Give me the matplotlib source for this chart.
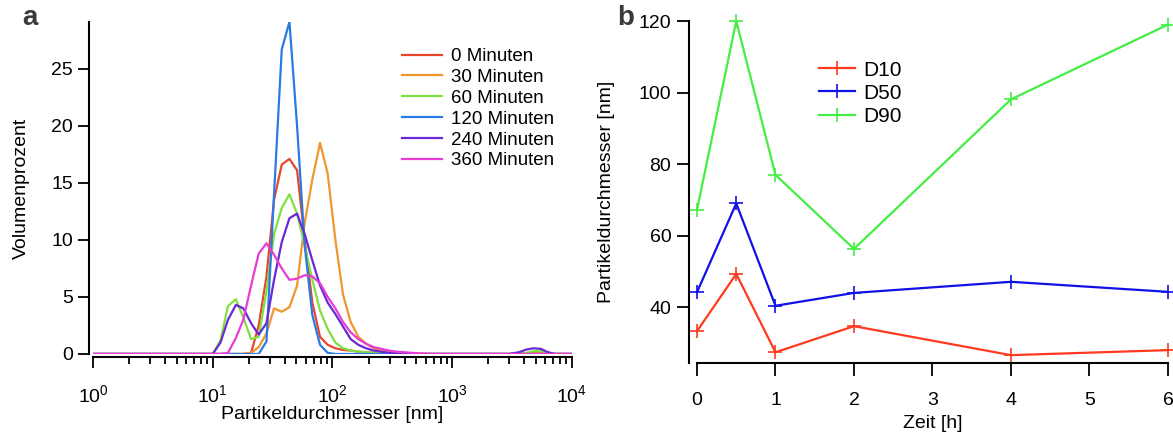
import matplotlib
matplotlib.use('Agg')
import matplotlib.pyplot as plt
import numpy as np

plt.rcParams['font.family'] = ['Liberation Sans', 'DejaVu Sans']
plt.rcParams['font.size'] = 14

# Panel a: Volumenverteilung (Partikeldurchmesser in nm)
durchmesser = [1.0, 5.0, 10.0, 11.6, 13.4, 15.6, 18.0, 20.9, 24.2, 28.1, 32.5, 37.7,
               43.7, 50.6, 58.6, 67.9, 78.7, 91.2, 105.7, 122.5, 141.9, 164.4, 190.5,
               220.8, 255.9, 296.5, 343.6, 398.1, 461.4, 534.6, 700, 1000, 2000, 3000,
               3600, 4200, 4800, 5500, 6300, 7200, 8400, 10000]

min0 = [0, 0, 0, 0, 0, 0, 0, 0.1, 2.5, 6.8, 13.5, 16.6,
        17.1, 16.1, 10.0, 4.5, 1.5, 0.8, 0.5, 0.35, 0.3, 0.2, 0.15,
        0.1, 0.05, 0, 0, 0, 0, 0, 0, 0, 0, 0,
        0, 0.05, 0.1, 0.1, 0.05, 0, 0, 0]
min30 = [0, 0, 0, 0, 0, 0, 0, 0.1, 0.6, 1.8, 4.0, 3.7,
         4.1, 6.0, 11.5, 15.3, 18.5, 15.8, 10.0, 5.2, 2.8, 1.5, 0.9,
         0.5, 0.3, 0.15, 0.1, 0.05, 0, 0, 0, 0, 0, 0,
         0, 0, 0.05, 0.1, 0.05, 0, 0, 0]
min60 = [0, 0, 0, 1.2, 4.2, 4.8, 3.2, 1.3, 1.5, 5.5, 10.5, 12.8,
         14.0, 12.3, 9.5, 6.5, 3.8, 2.2, 1.0, 0.5, 0.3, 0.2, 0.15,
         0.1, 0.05, 0, 0, 0, 0, 0, 0, 0, 0, 0,
         0, 0.1, 0.25, 0.3, 0.15, 0, 0, 0]
min120 = [0, 0, 0, 0, 0, 0, 0, 0, 0, 1.1, 14.0, 26.7,
          29.1, 20.0, 9.5, 3.4, 0.8, 0.1, 0, 0, 0, 0, 0,
          0, 0, 0, 0, 0, 0, 0, 0, 0, 0, 0,
          0, 0, 0, 0, 0, 0, 0, 0]
min240 = [0, 0, 0, 1.0, 3.0, 4.3, 4.0, 2.7, 1.7, 2.7, 6.5, 9.8,
          11.9, 12.3, 10.5, 8.2, 6.0, 4.5, 3.5, 2.4, 1.3, 0.8, 0.5,
          0.3, 0.2, 0.1, 0.05, 0, 0, 0, 0, 0, 0, 0,
          0.15, 0.4, 0.5, 0.45, 0.15, 0, 0, 0]
min360 = [0, 0, 0, 0, 0.1, 1.4, 3.0, 6.0, 8.8, 9.7, 8.7, 7.5,
          6.5, 6.6, 6.9, 6.8, 6.2, 5.0, 4.0, 2.8, 1.9, 1.3, 0.9,
          0.6, 0.45, 0.3, 0.2, 0.15, 0.1, 0.05, 0, 0, 0, 0,
          0, 0, 0, 0, 0, 0, 0, 0]

kurven = [min0, min30, min60, min120, min240, min360]
namen = ['0 Minuten', '30 Minuten', '60 Minuten', '120 Minuten', '240 Minuten', '360 Minuten']
farben = ['#e8472c', '#f0962e', '#80e040', '#2a7ae2', '#6a28d8', '#e83cd6']

# Panel b: D10 / D50 / D90 ueber die Zeit
zeit = [0, 0.5, 1, 2, 4, 6]
d10 = [33.3, 49.3, 27.4, 34.7, 26.6, 28.0]
d50 = [44.2, 69.0, 40.4, 44.0, 47.1, 44.3]
d90 = [67.2, 120.0, 77.0, 56.3, 98.1, 119.0]

fig = plt.figure(figsize=(11.73, 4.37), dpi=100)

# ---- a ----
ax = fig.add_axes([0.0793, 0.19, 0.4083, 0.7597])
for y, n, c in zip(kurven, namen, farben):
    ax.plot(durchmesser, y, color=c, lw=1.6, label=n)
ax.set_xscale('log')
ax.set_xlim(1, 1e4)
ax.set_ylim(0, 29.1)
ax.set_yticks([0, 5, 10, 15, 20, 25])
ax.set_xticks([1, 10, 100, 1000, 10000])
ax.set_xticklabels(['$\\mathregular{10^{%d}}$' % i for i in range(5)])
for s in ['top', 'right']:
    ax.spines[s].set_visible(False)
ax.spines['left'].set_position(('outward', 3))
ax.spines['bottom'].set_position(('outward', 2))
ax.spines['left'].set_linewidth(1.5)
ax.spines['bottom'].set_linewidth(1.5)
ax.tick_params(axis='both', which='major', direction='out', length=8, width=1.3, labelsize=14)
ax.tick_params(axis='x', which='minor', direction='out', length=5, width=1.3)
ax.tick_params(axis='x', which='major', pad=12)
ax.set_ylabel('Volumenprozent', fontsize=14, labelpad=15)
ax.set_xlabel('Partikeldurchmesser [nm]', fontsize=14)
ax.xaxis.set_label_coords(0.5, -0.158)
ax.legend(loc='upper left', bbox_to_anchor=(0.625, 0.95), frameon=False, fontsize=13.5,
          handlelength=2.15, handletextpad=0.5, labelspacing=0.2, borderpad=0)
fig.text(22 / 1173, 1 - 18 / 437, 'a', fontsize=20, fontweight='bold', color='#3a3a3a',
         ha='left', va='center')

# ---- b ----
bx = fig.add_axes([0.5942, 0.1693, 0.4015, 0.7826])
bx.plot(zeit, d10, color='#ff3a1e', lw=1.6, marker='+', ms=10, mew=1.2, label='D10', clip_on=False)
bx.plot(zeit, d50, color='#1010e8', lw=1.6, marker='+', ms=10, mew=1.2, label='D50', clip_on=False)
bx.plot(zeit, d90, color='#44ee44', lw=1.6, marker='+', ms=10, mew=1.2, label='D90', clip_on=False)
bx.set_xlim(0, 6)
bx.set_ylim(24.4, 120)
bx.set_yticks([40, 60, 80, 100, 120])
bx.set_xticks([0, 1, 2, 3, 4, 5, 6])
for s in ['top', 'right']:
    bx.spines[s].set_visible(False)
bx.spines['left'].set_position(('outward', 6))
bx.spines['left'].set_linewidth(1.5)
bx.spines['bottom'].set_linewidth(1.5)
bx.tick_params(axis='both', direction='out', length=9, width=1.3, labelsize=14)
bx.tick_params(axis='x', pad=12)
bx.set_ylabel('Partikeldurchmesser [nm]', fontsize=14, labelpad=17)
bx.set_xlabel('Zeit [h]', fontsize=14, labelpad=4)
bx.legend(loc='upper left', bbox_to_anchor=(0.236, 0.915), frameon=False, fontsize=15,
          handlelength=1.75, handletextpad=0.4, labelspacing=0.2, borderpad=0)
fig.text(617 / 1173, 1 - 18 / 437, 'b', fontsize=20, fontweight='bold', color='#3a3a3a',
         ha='left', va='center')

fig.savefig('out.png', dpi=100)
